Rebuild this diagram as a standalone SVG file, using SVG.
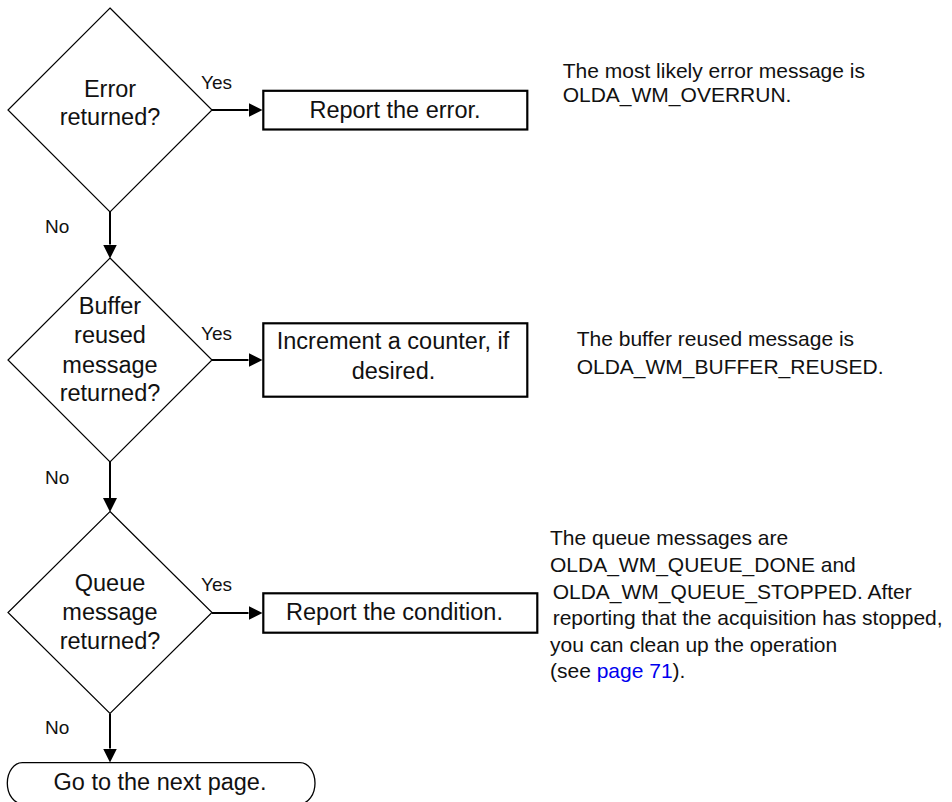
<svg xmlns="http://www.w3.org/2000/svg" width="952" height="802" viewBox="0 0 952 802">
<style>
  .bg { fill: #ffffff; }
  .dia { fill: #ffffff; stroke: #000000; stroke-width: 1.2; }
  .box { fill: #ffffff; stroke: #000000; stroke-width: 2.2; }
  .term { fill: #ffffff; stroke: #000000; stroke-width: 1.3; }
  .conn { fill: none; stroke: #000000; stroke-width: 2; }
  .t { font-family: "Liberation Sans", Arial, Helvetica, sans-serif; font-size: 23.5px; fill: #111111; }
  .c { text-anchor: middle; }
  .lbl { font-family: "Liberation Sans", Arial, Helvetica, sans-serif; font-size: 19px; fill: #111111; }
  .note { font-family: "Liberation Sans", Arial, Helvetica, sans-serif; font-size: 21px; fill: #111111; }
  .link { fill: #0000ee; }
</style>
<defs>
  <marker id="arr" viewBox="0 0 14 14" refX="0" refY="7" markerWidth="14" markerHeight="14" markerUnits="userSpaceOnUse" orient="auto">
    <path d="M0,0 L14,7 L0,14 z" fill="#000000"/>
  </marker>
</defs>
<rect class="bg" x="0" y="0" width="952" height="802"/>

<g id="connectors">
  <line class="conn" x1="212" y1="110" x2="248.5" y2="110" marker-end="url(#arr)"/>
  <line class="conn" x1="110" y1="212" x2="110" y2="244.5" marker-end="url(#arr)"/>
  <line class="conn" x1="212" y1="360" x2="248.5" y2="360" marker-end="url(#arr)"/>
  <line class="conn" x1="110" y1="462" x2="110" y2="498" marker-end="url(#arr)"/>
  <line class="conn" x1="212" y1="613" x2="248.5" y2="613" marker-end="url(#arr)"/>
  <line class="conn" x1="110" y1="713.5" x2="110" y2="748.5" marker-end="url(#arr)"/>
  <text class="lbl" x="201" y="89">Yes</text>
  <text class="lbl" x="45" y="232.5">No</text>
  <text class="lbl" x="201" y="340">Yes</text>
  <text class="lbl" x="45" y="483.5">No</text>
  <text class="lbl" x="201" y="591">Yes</text>
  <text class="lbl" x="45" y="734">No</text>
</g>

<g id="decision1">
  <polygon class="dia" points="110,8 212,110 110,212 8,110"/>
  <text class="t c" x="110" y="96.5">Error</text>
  <text class="t c" x="110" y="125">returned?</text>
</g>

<g id="action1">
  <rect class="box" x="263.3" y="90.8" width="264" height="38.7"/>
  <text class="t c" x="395" y="117.5">Report the error.</text>
</g>

<g id="note1">
  <text class="note" x="562.7" y="78.3">The most likely error message is</text>
  <text class="note" x="562.7" y="101.7">OLDA_WM_OVERRUN.</text>
</g>

<g id="decision2">
  <polygon class="dia" points="110,258 212,360 110,462 8,360"/>
  <text class="t c" x="110" y="314">Buffer</text>
  <text class="t c" x="110" y="343.3">reused</text>
  <text class="t c" x="110" y="372.6">message</text>
  <text class="t c" x="110" y="401">returned?</text>
</g>

<g id="action2">
  <rect class="box" x="263.3" y="323.3" width="264" height="73.4"/>
  <text class="t c" x="393" y="349">Increment a counter, if</text>
  <text class="t c" x="393.5" y="379">desired.</text>
</g>

<g id="note2">
  <text class="note" x="576.7" y="345.5">The buffer reused message is</text>
  <text class="note" x="576.7" y="373.5">OLDA_WM_BUFFER_REUSED.</text>
</g>

<g id="decision3">
  <polygon class="dia" points="110,511.5 212,612.5 110,713.5 8,612.5"/>
  <text class="t c" x="110" y="590.5">Queue</text>
  <text class="t c" x="110" y="619.5">message</text>
  <text class="t c" x="110" y="648.5">returned?</text>
</g>

<g id="action3">
  <rect class="box" x="263.3" y="593.3" width="274" height="39.4"/>
  <text class="t c" x="394.5" y="619.5">Report the condition.</text>
</g>

<g id="note3">
  <text class="note" x="550" y="545">The queue messages are</text>
  <text class="note" x="550" y="571.8">OLDA_WM_QUEUE_DONE and</text>
  <text class="note" x="552.7" y="598.8">OLDA_WM_QUEUE_STOPPED. After</text>
  <text class="note" x="552.7" y="625.4">reporting that the acquisition has stopped,</text>
  <text class="note" x="550" y="651.8">you can clean up the operation</text>
  <text class="note" x="550" y="678.4">(see <tspan class="link">page 71</tspan>).</text>
</g>

<g id="terminator">
  <rect class="term" x="7.3" y="762.7" width="307.7" height="41" rx="15" ry="20.5"/>
  <text class="t c" x="160" y="790">Go to the next page.</text>
</g>
</svg>
